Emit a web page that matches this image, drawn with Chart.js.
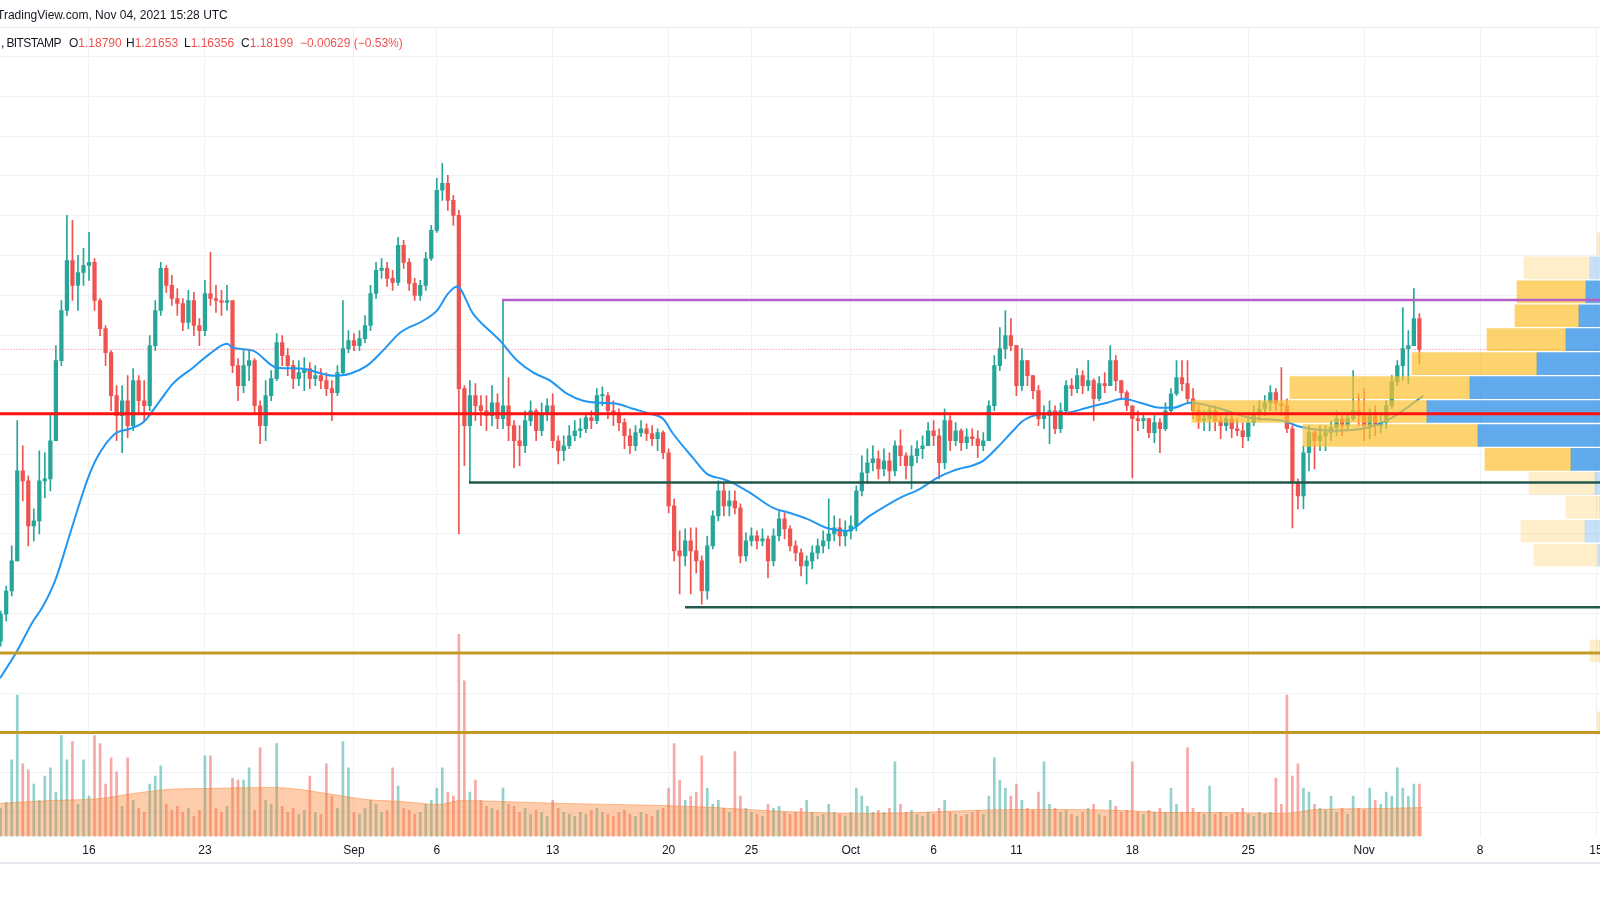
<!DOCTYPE html>
<html>
<head>
<meta charset="utf-8">
<title>XRPUSD, BITSTAMP</title>
<script src="https://cdn.jsdelivr.net/npm/chart.js@4.4.0/dist/chart.umd.min.js"></script>
<style>
  body { margin: 0; background: #fff; }
  #wrap { position: relative; width: 1600px; height: 900px; overflow: hidden;
          font-family: 'Liberation Sans', Arial, sans-serif; color: #131722; }
  #chart { position: absolute; left: 0; top: 0; }
  .hdr { position: absolute; font-size: 12px; line-height: 18px; white-space: nowrap; }
  .red { color: #ef5350; }
  #sep { position: absolute; left: 0; top: 27px; width: 1600px; height: 1px; background: #e6e8ee; }
  #axisline { position: absolute; left: 0; top: 862px; width: 1600px; height: 2px; background: #e6e7ee; }
</style>
</head>
<body>
<div id="wrap">
  <canvas id="chart" width="1600" height="900"></canvas>
  <div class="hdr" style="left:-3px;top:6px">TradingView.com, Nov 04, 2021 15:28 UTC</div>
  <div id="sep"></div>
  <div class="hdr" style="left:1px;top:34px;letter-spacing:-0.6px">, BITSTAMP</div>
  <div class="hdr" style="left:69px;top:34px">O<span class="red">1.18790</span></div>
  <div class="hdr" style="left:126px;top:34px">H<span class="red">1.21653</span></div>
  <div class="hdr" style="left:184px;top:34px">L<span class="red">1.16356</span></div>
  <div class="hdr" style="left:241px;top:34px">C<span class="red">1.18199</span></div>
  <div class="hdr red" style="left:300px;top:34px">−0.00629 (−0.53%)</div>
  <div id="axisline"></div>
</div>
<script>
// time is in days since Aug 1 2021 00:00 UTC, candles are 8 hours wide
const candleStartDay = 9.667;
const candleStepDays = 1 / 3;
const firstOpen = 0.8153;

const closes = [
  0.8493, 0.8783, 0.9161, 1.0294, 1.0168, 0.9601, 0.9664, 1.0168, 1.0193, 1.0672,
  1.1679, 1.2309, 1.2938, 1.2624, 1.2787, 1.2875, 1.2913, 1.2435, 1.2082, 1.1780,
  1.1238, 1.0986, 1.1175, 1.0861, 1.1427, 1.1175, 1.1112, 1.1868, 1.2309, 1.2838,
  1.2624, 1.2460, 1.2397, 1.2158, 1.2435, 1.2120, 1.2057, 1.2523, 1.2460, 1.2435,
  1.2410, 1.2435, 1.1616, 1.1364, 1.1616, 1.1679, 1.1112, 1.0861, 1.1238, 1.1452,
  1.1906, 1.1742, 1.1616, 1.1452, 1.1528, 1.1578, 1.1452, 1.1490, 1.1427, 1.1326,
  1.1276, 1.1528, 1.1830, 1.1931, 1.1868, 1.1956, 1.2120, 1.2523, 1.2813, 1.2838,
  1.2712, 1.2662, 1.3128, 1.2913, 1.2649, 1.2498, 1.2624, 1.2963, 1.3316, 1.3820,
  1.3908, 1.3694, 1.3505, 1.1326, 1.0861, 1.1238, 1.1112, 1.1049, 1.0986, 1.1150,
  1.0949, 1.1112, 1.0861, 1.0672, 1.0609, 1.0924, 1.1049, 1.0798, 1.1024, 1.1112,
  1.0672, 1.0546, 1.0609, 1.0735, 1.0798, 1.0823, 1.0962, 1.0924, 1.1238, 1.1238,
  1.1049, 1.1024, 1.0899, 1.0735, 1.0609, 1.0773, 1.0823, 1.0760, 1.0697, 1.0773,
  1.0521, 0.9853, 0.9287, 0.9224, 0.9413, 0.9287, 0.9161, 0.8783, 0.9350, 0.9728,
  1.0042, 0.9853, 0.9916, 0.9828, 0.9224, 0.9413, 0.9476, 0.9413, 0.9438, 0.9161,
  0.9476, 0.9690, 0.9564, 0.9350, 0.9262, 0.9098, 0.9161, 0.9262, 0.9350, 0.9413,
  0.9501, 0.9576, 0.9476, 0.9538, 0.9601, 1.0042, 1.0269, 1.0395, 1.0445, 1.0319,
  1.0420, 1.0294, 1.0609, 1.0483, 1.0357, 1.0483, 1.0571, 1.0609, 1.0798, 1.0735,
  1.0395, 1.0924, 1.0672, 1.0798, 1.0647, 1.0722, 1.0697, 1.0609, 1.0672, 1.1112,
  1.1616, 1.1830, 1.1994, 1.1868, 1.1364, 1.1679, 1.1490, 1.1301, 1.0949, 1.0987,
  1.1049, 1.0823, 1.1049, 1.1364, 1.1326, 1.1490, 1.1364, 1.1427, 1.1200, 1.1389,
  1.1364, 1.1679, 1.1427, 1.1276, 1.1112, 1.0949, 1.0924, 1.0949, 1.0773, 1.0899,
  1.0823, 1.1049, 1.1263, 1.1465, 1.1389, 1.1200, 1.1049, 1.0924, 1.0949, 1.1049,
  1.0924, 1.0861, 1.0949, 1.0823, 1.0798, 1.0722, 1.0899, 1.1011, 1.1074, 1.1150,
  1.1276, 1.1137, 1.1112, 1.0823, 1.0143, 0.9979, 1.0521, 1.0773, 1.0672, 1.0735,
  1.0773, 1.0836, 1.0949, 1.0861, 1.0949, 1.1049, 1.0987, 1.0861, 1.0987, 1.0861,
  1.0899, 1.1112, 1.1415, 1.1616, 1.1830, 1.1868, 1.2208, 1.1820
];
const highs = [
  0.8531, 0.8846, 0.9350, 1.0924, 1.0609, 1.0231, 0.9815, 1.0546, 1.0521, 1.1011,
  1.1868, 1.2435, 1.3505, 1.3442, 1.3001, 1.3089, 1.3291, 1.2963, 1.2460, 1.2120,
  1.1805, 1.1364, 1.1364, 1.1490, 1.1578, 1.1490, 1.1427, 1.1994, 1.2435, 1.2913,
  1.2875, 1.2750, 1.2586, 1.2460, 1.2561, 1.2536, 1.2208, 1.2687, 1.3039, 1.2624,
  1.2561, 1.2624, 1.2435, 1.1704, 1.1805, 1.1805, 1.1704, 1.1175, 1.1427, 1.1553,
  1.2019, 1.1994, 1.1830, 1.1679, 1.1679, 1.1717, 1.1654, 1.1616, 1.1578, 1.1528,
  1.1427, 1.1616, 1.2435, 1.2057, 1.2019, 1.2057, 1.2246, 1.2624, 1.2913, 1.2963,
  1.2913, 1.2813, 1.3228, 1.3190, 1.2963, 1.2712, 1.2687, 1.3039, 1.3379, 1.3971,
  1.4160, 1.4009, 1.3757, 1.3568, 1.1364, 1.1427, 1.1389, 1.1238, 1.1238, 1.1364,
  1.1263, 1.2435, 1.1465, 1.0924, 1.0861, 1.1049, 1.1175, 1.1074, 1.1150, 1.1200,
  1.1263, 1.0735, 1.0735, 1.0861, 1.0924, 1.0949, 1.1024, 1.1049, 1.1326, 1.1351,
  1.1276, 1.1175, 1.1074, 1.0949, 1.0823, 1.0861, 1.0924, 1.0886, 1.0861, 1.0823,
  1.0798, 1.0571, 0.9941, 0.9538, 0.9564, 0.9576, 0.9576, 0.9224, 0.9475, 0.9790,
  1.0168, 1.0143, 1.0042, 1.0042, 0.9878, 0.9513, 0.9576, 0.9538, 0.9564, 0.9476,
  0.9564, 0.9790, 0.9765, 0.9601, 0.9413, 0.9312, 0.9224, 0.9350, 0.9438, 0.9538,
  0.9942, 0.9728, 0.9690, 0.9664, 0.9728, 1.0105, 1.0483, 1.0571, 1.0609, 1.0546,
  1.0571, 1.0521, 1.0672, 1.0810, 1.0521, 1.0609, 1.0672, 1.0735, 1.0899, 1.0924,
  1.0823, 1.1074, 1.0987, 1.0899, 1.0823, 1.0823, 1.0823, 1.0798, 1.0773, 1.1175,
  1.1742, 1.2095, 1.2309, 1.2208, 1.1868, 1.1830, 1.1679, 1.1490, 1.1364, 1.1112,
  1.1175, 1.1112, 1.1150, 1.1427, 1.1452, 1.1578, 1.1553, 1.1679, 1.1452, 1.1477,
  1.1528, 1.1868, 1.1742, 1.1427, 1.1301, 1.1112, 1.1049, 1.1024, 1.0949, 1.0987,
  1.0949, 1.1150, 1.1326, 1.1679, 1.1679, 1.1679, 1.1326, 1.1112, 1.1049, 1.1112,
  1.1112, 1.1024, 1.1049, 1.0987, 1.0949, 1.0899, 1.0987, 1.1112, 1.1175, 1.1238,
  1.1364, 1.1326, 1.1591, 1.1200, 1.0861, 1.0193, 1.0609, 1.0861, 1.0798, 1.0861,
  1.0861, 1.0924, 1.1049, 1.1024, 1.1024, 1.1553, 1.1263, 1.1326, 1.1074, 1.1112,
  1.1024, 1.1175, 1.1490, 1.1679, 1.2347, 1.2057, 1.2586, 1.2270
];
const lows = [
  0.8090, 0.8405, 0.8720, 0.9161, 0.9916, 0.9350, 0.9413, 0.9501, 0.9954, 1.0042,
  1.0672, 1.1616, 1.2246, 1.2435, 1.2309, 1.2624, 1.2687, 1.2309, 1.1994, 1.1616,
  1.1049, 1.0672, 1.0521, 1.0710, 1.0798, 1.1024, 1.0924, 1.1049, 1.1805, 1.2246,
  1.2536, 1.2372, 1.2246, 1.2057, 1.2082, 1.1994, 1.1868, 1.1994, 1.2372, 1.2284,
  1.2246, 1.2309, 1.1528, 1.1175, 1.1276, 1.1427, 1.1024, 1.0634, 1.0672, 1.1175,
  1.1427, 1.1616, 1.1490, 1.1326, 1.1364, 1.1301, 1.1326, 1.1364, 1.1326, 1.1238,
  1.0924, 1.1238, 1.1490, 1.1780, 1.1805, 1.1805, 1.1906, 1.2057, 1.2460, 1.2712,
  1.2611, 1.2561, 1.2624, 1.2838, 1.2561, 1.2435, 1.2435, 1.2561, 1.2938, 1.3291,
  1.3694, 1.3568, 1.3379, 0.9501, 1.0357, 1.0143, 1.0924, 1.0861, 1.0798, 1.0861,
  1.0823, 1.0823, 1.0672, 1.0332, 1.0357, 1.0521, 1.0861, 1.0672, 1.0735, 1.0924,
  1.0584, 1.0382, 1.0420, 1.0571, 1.0672, 1.0710, 1.0773, 1.0823, 1.0886, 1.1112,
  1.0949, 1.0861, 1.0798, 1.0571, 1.0508, 1.0546, 1.0722, 1.0672, 1.0609, 1.0546,
  1.0445, 0.9765, 0.9161, 0.8745, 0.9098, 0.8745, 0.9010, 0.8619, 0.8682, 0.9312,
  0.9664, 0.9728, 0.9728, 0.9753, 0.9136, 0.9161, 0.9350, 0.9312, 0.9350, 0.8947,
  0.9098, 0.9413, 0.9438, 0.9287, 0.9161, 0.8972, 0.8871, 0.9060, 0.9186, 0.9262,
  0.9312, 0.9413, 0.9350, 0.9350, 0.9438, 0.9538, 0.9979, 1.0143, 1.0294, 1.0193,
  1.0231, 1.0143, 1.0231, 1.0357, 1.0193, 1.0067, 1.0395, 1.0445, 1.0609, 1.0609,
  1.0193, 1.0319, 1.0546, 1.0609, 1.0546, 1.0571, 1.0609, 1.0458, 1.0546, 1.0672,
  1.1049, 1.1553, 1.1704, 1.1805, 1.1238, 1.1301, 1.1364, 1.1200, 1.0861, 1.0823,
  1.0634, 1.0760, 1.0773, 1.1024, 1.1238, 1.1276, 1.1263, 1.1301, 1.0924, 1.1175,
  1.1276, 1.1364, 1.1301, 1.1200, 1.1049, 1.0206, 1.0798, 1.0823, 1.0710, 1.0647,
  1.0521, 1.0798, 1.1024, 1.1238, 1.1301, 1.1137, 1.0949, 1.0823, 1.0798, 1.0798,
  1.0798, 1.0697, 1.0798, 1.0710, 1.0735, 1.0584, 1.0672, 1.0861, 1.0924, 1.0987,
  1.1049, 1.1049, 1.0987, 1.0773, 0.9576, 0.9815, 0.9815, 1.0294, 1.0319, 1.0546,
  1.0546, 1.0672, 1.0735, 1.0735, 1.0823, 1.0924, 1.0861, 1.0672, 1.0697, 1.0735,
  1.0773, 1.0823, 1.1074, 1.1364, 1.1427, 1.1389, 1.1868, 1.1636
];
const volumes = [
  14, 17, 38, 70, 36, 33, 26, 18, 30, 34,
  22, 50, 38, 47, 16, 38, 20, 50, 46, 26,
  39, 32, 15, 39, 18, 14, 12, 26, 30, 35,
  16, 13, 15, 12, 14, 10, 13, 40, 40, 14,
  12, 15, 29, 28, 28, 34, 13, 44, 18, 16,
  46, 15, 12, 14, 11, 13, 30, 12, 11, 36,
  20, 14, 47, 34, 12, 11, 14, 18, 16, 12,
  13, 34, 25, 14, 13, 11, 12, 16, 18, 24,
  34, 22, 20, 100, 77, 22, 28, 18, 15, 14,
  13, 24, 16, 15, 12, 14, 11, 13, 12, 10,
  18, 14, 12, 11, 10, 12, 11, 13, 14, 12,
  11, 10, 12, 13, 11, 10, 12, 11, 10, 13,
  14, 24, 46, 28, 18, 20, 22, 40, 24, 16,
  18, 14, 12, 42, 20, 14, 12, 11, 10, 16,
  14, 15, 12, 11, 12, 14, 18, 12, 10, 11,
  16, 12, 11, 10, 12, 24, 20, 15, 12, 13,
  12, 14, 37, 16, 12, 13, 11, 10, 12, 11,
  14, 18, 12, 11, 10, 11, 12, 13, 11, 20,
  39, 28, 24, 20, 26, 18, 14, 13, 22, 37,
  16, 14, 12, 13, 11, 10, 12, 14, 16, 11,
  10, 18, 15, 12, 13, 37, 12, 11, 13, 12,
  14, 12, 24, 16, 12, 44, 14, 12, 11, 25,
  11, 12, 10, 11, 12, 14, 11, 10, 12, 11,
  12, 29, 16, 70, 30, 36, 24, 22, 16, 14,
  13, 20, 12, 14, 11, 20, 14, 13, 24, 18,
  16, 22, 20, 34, 24, 20, 26, 26
];

// moving average of price (blue line)
const maDays = [9.63, 10.65, 11.62, 12.16, 12.95, 13.85, 14.34, 14.88, 15.48, 16.57,
  17.48, 18.26, 19.29, 20.07, 21.28, 22.31, 23.33, 23.70, 24.90, 26.35,
  27.74, 29.74, 30.76, 31.79, 32.75, 33.78, 35.17, 36.02, 36.68, 37.22,
  38.19, 39.82, 40.85, 41.81, 42.84, 43.86, 44.83, 45.86, 46.88, 47.85,
  48.88, 49.66, 50.27, 51.47, 52.32, 53.29, 53.89, 54.92, 56.31, 57.33,
  58.36, 59.56, 60.77, 62.16, 63.97, 65.18, 66.21, 67.17, 68.99, 69.83,
  70.80, 71.40, 72.61, 74.06, 75.27, 76.48, 77.44, 78.47, 79.67, 80.46,
  81.49, 83.12, 85.11, 87.10, 88.13, 90.12, 92.18, 93.56, 94.59, 95.56];
const maValues = [0.7687, 0.8026, 0.8404, 0.857, 0.891, 0.950, 0.9827, 1.0167, 1.0457, 1.076,
  1.0822, 1.090, 1.1175, 1.139, 1.159, 1.1767, 1.189, 1.184, 1.1805, 1.159,
  1.158, 1.149, 1.1515, 1.1616, 1.1805, 1.203, 1.218, 1.231, 1.252, 1.261,
  1.227, 1.193, 1.168, 1.153, 1.1427, 1.1263, 1.1175, 1.115, 1.1137, 1.1074,
  1.101, 1.0948, 1.076, 1.0457, 1.0256, 1.019, 1.014, 1.0016, 0.9827, 0.9764,
  0.9689, 0.9575, 0.9538, 0.973, 0.9953, 1.0067, 1.0205, 1.0293, 1.042, 1.0583,
  1.0797, 1.0923, 1.101, 1.1024, 1.1087, 1.115, 1.120, 1.115, 1.1087, 1.1087,
  1.115, 1.1087, 1.0961, 1.0923, 1.0848, 1.0797, 1.0835, 1.0948, 1.1087, 1.1238];

// moving average of volume (peach area)
const volMaDays = [9.63, 12.65, 15.66, 17.66, 19.71, 22.13, 26.11, 27.74, 29.74, 31.79,
  33.78, 36.20, 37.40, 39.82, 43.50, 49.66, 52.74, 55.82, 58.90, 61.98,
  65.06, 68.14, 71.22, 74.30, 77.38, 80.46, 83.54, 87.10, 89.16, 93.14, 95.50];
const volMaValues = [16.4, 17.8, 18.8, 21.3, 23.3, 23.8, 24.3, 23.3, 20.8, 18.3,
  17.4, 15.9, 17.8, 17.4, 16.4, 15.4, 14.4, 12.9, 11.9, 11.4,
  11.9, 12.9, 13.4, 13.4, 12.9, 11.9, 11.9, 11.4, 13.4, 13.9, 14.4];

// visible range volume profile rows
const vpPrices = [1.3146, 1.2845, 1.2544, 1.2243, 1.1942, 1.1641, 1.1340, 1.1039,
  1.0738, 1.0437, 1.0136, 0.9835, 0.9534, 0.9233, 0.8029, 0.7126];
const vpUp = [0, 10, 14, 21, 34, 63, 130, 173, 122, 29, 5, 0, 15, 2, 0, 0];
const vpDown = [3, 66, 69, 64, 79, 125, 180, 235, 175, 86, 66, 34, 64, 64, 10, 3];
const vpValueArea = [false, false, true, true, true, true, true, true,
  true, true, false, false, false, false, false, false];

// drawn horizontal levels: red, purple, upper green, lower green, gold, gold
const levelPrices = [1.101, 1.2441, 1.0146, 0.858, 0.8005, 0.7006];
const levelStartDays = [9, 39.94, 37.95, 50.99, 9, 9];

const tickDays = [15, 22, 31, 36, 43, 50, 55, 61, 66, 71, 78, 85, 92, 99, 106];
const tickLabels = ['16', '23', 'Sep', '6', '13', '20', '25', 'Oct', '6', '11', '18', '25', 'Nov', '8', '15'];
const priceGrid = [0.60, 0.65, 0.70, 0.75, 0.80, 0.85, 0.90, 0.95, 1.00, 1.05,
  1.10, 1.15, 1.20, 1.25, 1.30, 1.35, 1.40, 1.45, 1.50, 1.55];

const UP = '#26a69a';
const DOWN = '#ef5350';
const lastDay = 107;

const candleDays = closes.map((c, i) => candleStartDay + i * candleStepDays);
const opens = closes.map((c, i) => i === 0 ? firstOpen : closes[i - 1]);
const isUp = closes.map((c, i) => c >= opens[i]);
const lastClose = closes[closes.length - 1];

function levelLine(i, color, width) {
  return {
    type: 'line',
    data: [{ x: levelStartDays[i], y: levelPrices[i] }, { x: lastDay, y: levelPrices[i] }],
    borderColor: color, borderWidth: width, pointRadius: 0, order: 1
  };
}

const font = { family: "'Liberation Sans', Arial, sans-serif", size: 12 };
const gridColor = '#f0f2f7';

new Chart(document.getElementById('chart'), {
  type: 'bar',
  data: {
    datasets: [
      {
        type: 'bar', xAxisID: 'x', yAxisID: 'yv',
        data: volumes.map((v, i) => ({ x: candleDays[i], y: v })),
        backgroundColor: isUp.map(u => u ? 'rgba(38,166,154,0.5)' : 'rgba(239,83,80,0.5)'),
        barThickness: 2, grouped: false, order: 10
      },
      {
        type: 'line', xAxisID: 'x', yAxisID: 'yv',
        data: volMaDays.map((d, i) => ({ x: d, y: volMaValues[i] })),
        fill: 'origin', backgroundColor: 'rgba(248,133,55,0.42)',
        borderColor: 'rgba(248,133,55,0.5)', borderWidth: 1,
        pointRadius: 0, cubicInterpolationMode: 'monotone', order: 9
      },
      {
        type: 'bar', xAxisID: 'x', yAxisID: 'y',
        data: closes.map((c, i) => ({ x: candleDays[i],
          y: [Math.min(lows[i], opens[i], c), Math.max(highs[i], opens[i], c)] })),
        backgroundColor: isUp.map(u => u ? UP : DOWN),
        barThickness: 1, grouped: false, order: 8
      },
      {
        type: 'bar', xAxisID: 'x', yAxisID: 'y',
        data: closes.map((c, i) => ({ x: candleDays[i], y: [opens[i], c] })),
        backgroundColor: isUp.map(u => u ? UP : DOWN),
        barThickness: 3.6, minBarLength: 1, grouped: false, order: 7
      },
      {
        type: 'line', xAxisID: 'x', yAxisID: 'y',
        data: maDays.map((d, i) => ({ x: d, y: maValues[i] })),
        borderColor: '#2196f3', borderWidth: 2, pointRadius: 0,
        cubicInterpolationMode: 'monotone', order: 6
      },
      {
        type: 'line', xAxisID: 'x', yAxisID: 'y',
        data: [{ x: 9, y: lastClose }, { x: lastDay, y: lastClose }],
        borderColor: 'rgba(239,83,80,0.75)', borderWidth: 1, borderDash: [1, 2],
        pointRadius: 0, order: 5.5
      },
      {
        type: 'bar', indexAxis: 'y', xAxisID: 'xvp', yAxisID: 'y',
        data: vpPrices.map((p, i) => ({ x: [0, vpUp[i]], y: p })),
        backgroundColor: vpValueArea.map(v => v ? 'rgba(30,136,229,0.7)' : 'rgba(30,136,229,0.25)'),
        barThickness: 22, grouped: false, order: 5
      },
      {
        type: 'bar', indexAxis: 'y', xAxisID: 'xvp', yAxisID: 'y',
        data: vpPrices.map((p, i) => ({ x: [vpUp[i], vpUp[i] + vpDown[i]], y: p })),
        backgroundColor: vpValueArea.map(v => v ? 'rgba(251,192,45,0.7)' : 'rgba(251,192,45,0.25)'),
        barThickness: 22, grouped: false, order: 5
      },
      levelLine(0, '#ff1111', 3),
      levelLine(1, '#b55fc8', 2.5),
      levelLine(2, '#21594b', 2.5),
      levelLine(3, '#21594b', 2.5),
      levelLine(4, '#c39a25', 3),
      levelLine(5, '#c39a25', 3)
    ]
  },
  options: {
    responsive: false,
    animation: false,
    events: [],
    layout: { padding: { top: 28, left: 0, right: 0, bottom: 35 }, autoPadding: false },
    plugins: { legend: { display: false }, tooltip: { enabled: false } },
    scales: {
      x: {
        type: 'linear', axis: 'x', position: 'bottom', min: 9.626, max: 106.24,
        offset: false,
        afterBuildTicks: axis => { axis.ticks = tickDays.map(v => ({ value: v })); },
        afterFit: axis => { axis.paddingLeft = 0; axis.paddingRight = 0; },
        ticks: {
          autoSkip: false, maxRotation: 0, padding: 7, color: '#131722', font: font,
          callback: v => tickLabels[tickDays.indexOf(v)]
        },
        grid: { color: gridColor, drawTicks: false, offset: false },
        border: { display: false }
      },
      y: {
        type: 'linear', axis: 'y', position: 'left', min: 0.5696, max: 1.586,
        offset: false, grace: 0,
        afterBuildTicks: axis => { axis.ticks = priceGrid.map(v => ({ value: v })); },
        ticks: { display: false },
        grid: { color: gridColor, drawTicks: false, offset: false },
        border: { display: false }
      },
      yv: { type: 'linear', axis: 'y', min: 0, max: 400, offset: false, display: false },
      xvp: { type: 'linear', axis: 'x', min: 0, max: 1600, reverse: true, offset: false,
             display: false, grid: { offset: false } }
    }
  }
});
</script>
</body>
</html>
